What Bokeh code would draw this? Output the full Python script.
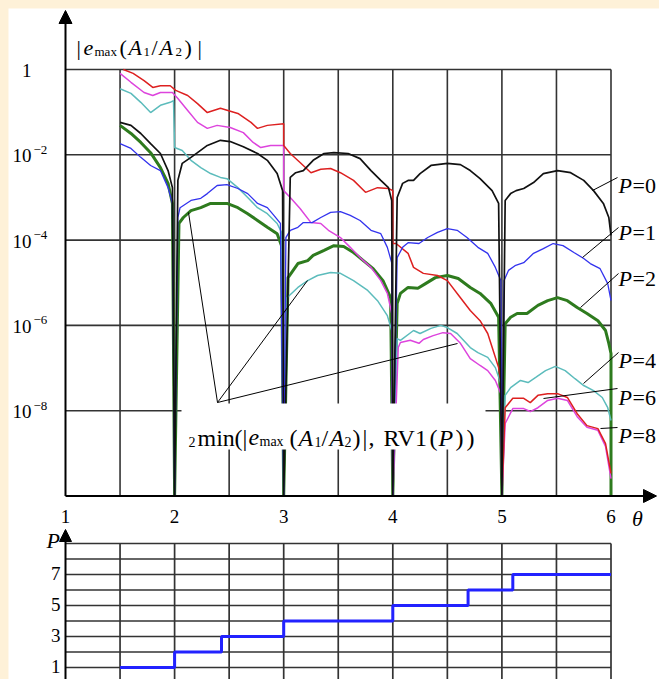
from bokeh.plotting import figure
from bokeh.models import Range1d, Arrow, NormalHead, GlobalInlineStyleSheet
from bokeh.core.properties import value
from bokeh.embed import file_html
from bokeh.resources import INLINE

# ------------------------------------------------------------------ data
theta_min, theta_max = 1, 6
log_err_min, log_err_max = -10, 0          # |e_max| axis spans 1e-10 .. 1 (decades)
x_ticks = [1, 2, 3, 4, 5, 6]
x_tick_labels = ["1", "2", "3", "4", "5", "6"]
x_grid = [1.5, 2, 2.5, 3, 3.5, 4, 4.5, 5, 5.5, 6]
y_ticks_log10 = [0, -2, -4, -6, -8]
y_tick_base = ["1", "10", "10", "10", "10"]
y_tick_exp = ["", "−2", "−4", "−6", "−8"]
p_ticks = [1, 3, 5, 7]
p_tick_labels = ["1", "3", "5", "7"]
p_grid = [1, 2, 3, 4, 5, 6, 7, 8, 9]

# log10 |e_max| (-10 = dip to zero, drawn down to the axis)
p0_theta = [1.50, 1.60, 1.69, 1.78, 1.87, 1.94, 1.98, 2.00, 2.03, 2.07, 2.15, 2.21, 2.30, 2.42, 2.51, 2.63, 2.76, 2.85, 2.94, 2.99,
            3.00, 3.06, 3.11, 3.18, 3.27, 3.37, 3.46, 3.59, 3.70, 3.80, 3.89, 3.96, 3.99, 4.00, 4.04, 4.09, 4.14, 4.19, 4.25, 4.35,
            4.50, 4.62, 4.71, 4.80, 4.91, 4.97, 5.00, 5.03, 5.08, 5.13, 5.20, 5.29, 5.38, 5.51, 5.63, 5.75, 5.84, 5.93, 5.98, 6.00]
p0_log10 = [-1.24, -1.31, -1.50, -1.74, -1.97, -2.37, -2.77, -10, -2.60, -2.20, -2.06, -1.95, -1.78, -1.66, -1.69, -1.81, -1.97, -2.13, -2.44, -2.84,
            -10, -2.53, -2.42, -2.37, -2.13, -1.97, -1.95, -1.97, -2.09, -2.37, -2.60, -2.77, -3.07, -10, -3.00, -2.67, -2.60, -2.60, -2.44, -2.25,
            -2.20, -2.23, -2.37, -2.56, -2.84, -3.14, -10, -3.07, -2.91, -2.84, -2.79, -2.65, -2.44, -2.37, -2.42, -2.60, -2.84, -3.14, -3.47, -3.89]

p1_theta = [1.50, 1.60, 1.69, 1.78, 1.87, 1.94, 1.98, 2.00, 2.03, 2.05, 2.15, 2.24, 2.30, 2.39, 2.48, 2.58, 2.67, 2.76, 2.85, 2.91, 2.97,
            3.00, 3.02, 3.06, 3.13, 3.18, 3.26, 3.34, 3.43, 3.52, 3.61, 3.70, 3.80, 3.89, 3.95, 3.99, 4.00, 4.04, 4.09, 4.14, 4.24, 4.32,
            4.41, 4.50, 4.59, 4.68, 4.78, 4.87, 4.94, 4.99, 5.00, 5.02, 5.06, 5.12, 5.20, 5.29, 5.38, 5.47, 5.56, 5.66, 5.75, 5.81, 5.90, 5.97, 6.00]
p1_log10 = [-1.74, -1.85, -2.06, -2.25, -2.37, -2.77, -3.14, -10, -3.47, -3.24, -3.07, -3.02, -2.91, -2.72, -2.70, -2.79, -2.91, -3.14, -3.24, -3.42, -3.61,
            -10, -3.94, -3.77, -3.70, -3.59, -3.59, -3.47, -3.35, -3.33, -3.42, -3.54, -3.77, -3.85, -4.17, -4.53, -10, -4.41, -4.17, -4.06, -4.08, -3.94,
            -3.82, -3.73, -3.77, -3.94, -4.17, -4.31, -4.64, -4.95, -10, -4.95, -4.71, -4.60, -4.53, -4.31, -4.20, -4.08, -4.13, -4.29, -4.43, -4.55, -4.67, -5.02, -5.42]

p2_theta = [1.50, 1.60, 1.69, 1.78, 1.87, 1.94, 1.98, 2.00, 2.04, 2.08, 2.15, 2.24, 2.33, 2.48, 2.58, 2.67, 2.76, 2.85, 2.94, 2.98,
            3.00, 3.04, 3.13, 3.22, 3.27, 3.37, 3.46, 3.55, 3.64, 3.73, 3.82, 3.91, 3.98, 4.00, 4.04, 4.07, 4.14, 4.23, 4.30, 4.39,
            4.50, 4.60, 4.71, 4.80, 4.90, 4.97, 5.00, 5.03, 5.08, 5.14, 5.23, 5.33, 5.42, 5.51, 5.60, 5.69, 5.78, 5.88, 5.95, 5.98, 6.00, 6.00]
p2_log10 = [-1.31, -1.50, -1.71, -1.95, -2.30, -2.67, -3.14, -10, -3.61, -3.47, -3.31, -3.24, -3.14, -3.14, -3.24, -3.38, -3.54, -3.70, -3.85, -4.13,
            -10, -4.88, -4.55, -4.48, -4.36, -4.24, -4.13, -4.15, -4.29, -4.48, -4.67, -4.95, -5.35, -10, -5.49, -5.25, -5.11, -5.13, -5.02, -4.88,
            -4.83, -4.90, -5.11, -5.25, -5.49, -5.81, -10, -5.96, -5.81, -5.72, -5.72, -5.53, -5.42, -5.35, -5.42, -5.58, -5.72, -5.89, -6.12, -6.42, -6.66, -10]

p4_theta = [1.50, 1.60, 1.69, 1.78, 1.87, 1.96, 1.99, 2.00, 2.07, 2.15, 2.24, 2.33, 2.42, 2.48, 2.58, 2.67, 2.76, 2.85, 2.94, 2.98,
            3.00, 3.03, 3.13, 3.22, 3.31, 3.43, 3.52, 3.64, 3.77, 3.86, 3.95, 3.99, 4.00, 4.04, 4.07, 4.19, 4.25, 4.35, 4.44, 4.50,
            4.59, 4.71, 4.78, 4.87, 4.94, 4.99, 5.00, 5.03, 5.08, 5.17, 5.24, 5.31, 5.40, 5.49, 5.58, 5.67, 5.75, 5.84, 5.92, 5.97, 6.00]
p4_log10 = [-0.45, -0.56, -0.77, -1.01, -0.84, -0.77, -0.73, -1.83, -1.90, -2.13, -2.30, -2.44, -2.53, -2.56, -2.77, -3.00, -3.24, -3.38, -3.61, -3.82,
            -10, -5.35, -5.11, -4.95, -4.83, -4.76, -4.78, -4.95, -5.18, -5.42, -5.77, -6.12, -10, -6.31, -6.35, -6.12, -6.19, -6.07, -6.00, -6.05,
            -6.19, -6.52, -6.64, -6.75, -6.99, -7.36, -10, -7.64, -7.46, -7.29, -7.34, -7.22, -7.06, -6.96, -7.06, -7.25, -7.41, -7.53, -7.69, -7.93, -8.23]

p6_theta = [1.50, 1.60, 1.72, 1.80, 1.87, 1.98, 2.03, 2.12, 2.21, 2.30, 2.39, 2.51, 2.63, 2.72, 2.79, 2.88, 3.00, 3.00,
            3.06, 3.15, 3.25, 3.34, 3.41, 3.52, 3.61, 3.70, 3.80, 3.89, 3.95, 3.99, 4.00, 4.05, 4.07, 4.16, 4.24, 4.28, 4.37,
            4.46, 4.53, 4.62, 4.71, 4.80, 4.87, 4.94, 4.99, 5.00, 5.03, 5.10, 5.20, 5.26, 5.33, 5.42, 5.51, 5.60, 5.69, 5.78, 5.88, 5.95, 6.00]
p6_log10 = [-0.09, -0.30, -0.54, -0.61, -0.54, -0.54, -0.68, -0.96, -1.24, -1.38, -1.31, -1.36, -1.48, -1.71, -1.83, -1.78, -1.78, -2.84,
            -3.00, -3.26, -3.59, -3.61, -3.77, -3.94, -4.17, -4.41, -4.64, -4.95, -5.25, -5.72, -10, -6.52, -6.40, -6.35, -6.42, -6.33, -6.24,
            -6.17, -6.19, -6.42, -6.78, -6.94, -7.06, -7.29, -7.60, -10, -8.30, -7.95, -7.95, -8.02, -7.93, -7.76, -7.71, -7.76, -8.14, -8.39, -8.46, -8.84, -9.59]

p8_theta = [1.53, 1.62, 1.72, 1.80, 1.87, 1.96, 2.01, 2.12, 2.21, 2.30, 2.42, 2.58, 2.70, 2.76, 2.85, 3.00, 3.00,
            3.06, 3.15, 3.25, 3.34, 3.43, 3.52, 3.64, 3.75, 3.86, 3.96, 4.00, 4.00, 4.03, 4.14, 4.19, 4.28, 4.41, 4.50,
            4.62, 4.71, 4.80, 4.87, 4.92, 4.97, 5.00, 5.00, 5.03, 5.10, 5.20, 5.26, 5.33, 5.42, 5.51, 5.60, 5.69, 5.78, 5.88, 5.95, 6.00]
p8_log10 = [0.00, -0.09, -0.26, -0.42, -0.38, -0.38, -0.49, -0.61, -0.80, -1.01, -0.91, -1.03, -1.24, -1.38, -1.31, -1.27, -1.78,
            -1.97, -2.18, -2.42, -2.34, -2.32, -2.42, -2.60, -2.88, -2.77, -2.79, -2.84, -4.08, -4.08, -4.31, -4.64, -4.78, -4.83, -4.95,
            -5.35, -5.65, -5.89, -6.19, -6.59, -6.99, -7.46, -10, -7.93, -7.71, -7.71, -7.81, -7.64, -7.60, -7.60, -7.69, -8.07, -8.35, -8.42, -8.77, -9.47]

# chosen P(theta) (lower panel), step edges
step_theta = [1.5, 2.0, 2.43, 3.0, 4.0, 4.69, 5.10, 6.0]
step_P = [1, 2, 3, 4, 5, 6, 7, 7]

# ------------------------------------------------------------------ geometry helpers (annotation placement, window pixels)
SERIF = "Liberation Serif"
PX0, PXS = 65.0, 109.1      # window x of theta=1, px per unit theta
PY0, PYS = 69.0, 42.65      # window y of 10^0, px per decade
PP1, PPS = 667.0, 15.5      # window y of P=1, px per unit P


def ax(px):
    return 1.0 + (px - PX0) / PXS


def ay(py):                 # window y -> log10 |e_max|
    return (PY0 - py) / PYS


def ap(py):                 # window y -> P
    return 1.0 + (PP1 - py) / PPS


W, H = 651, 671
GRID = "#333333"

fig = figure(width=W, height=H, x_range=Range1d(ax(8), ax(8 + W)), y_range=Range1d(ay(8 + H), ay(8)),
             output_backend="svg", toolbar_location=None, title=None,
             x_axis_location=None, y_axis_location=None,
             min_border_left=0, min_border_right=0, min_border_top=0, min_border_bottom=0)
fig.extra_y_ranges = {"p": Range1d(ap(8 + H), ap(8))}
fig.outline_line_color = None
fig.xgrid.visible = False
fig.ygrid.visible = False


def txt(xs, ys, texts, size, style="normal", align="left", baseline="alphabetic", dx=0, dy=0, rng="default"):
    fig.text(x=xs, y=ys, text=texts, text_font=value(SERIF), text_font_size=f"{size}px",
             text_font_style=value(style), text_align=value(align), text_baseline=value(baseline),
             x_offset=dx, y_offset=dy, text_color="black", y_range_name=rng)


# ------------------------------------------------------------------ upper panel: |e_max(A1/A2)| vs theta
fig.segment(x0=x_grid, y0=[log_err_min] * len(x_grid), x1=x_grid, y1=[log_err_max] * len(x_grid),
            line_color=GRID, line_width=1.6)
fig.segment(x0=[theta_min] * len(y_ticks_log10), y0=y_ticks_log10, x1=[theta_max] * len(y_ticks_log10),
            y1=y_ticks_log10, line_color=GRID, line_width=1.6)

curves = [
    (p2_theta, p2_log10, "#2e7b1e", 3.0),
    (p4_theta, p4_log10, "#5cbcbc", 1.5),
    (p6_theta, p6_log10, "#dd44dd", 1.5),
    (p8_theta, p8_log10, "#dd2020", 1.5),
    (p1_theta, p1_log10, "#3333ee", 1.3),
    (p0_theta, p0_log10, "#111111", 1.7),
]
for th, lg, col, lw in curves:
    fig.line(th, lg, line_color=col, line_width=lw)

# tick labels
txt(x_ticks, [log_err_min] * len(x_ticks), x_tick_labels, 19, align="center", dy=20)
txt([theta_min] * len(y_ticks_log10), y_ticks_log10, y_tick_base, 19, align="right", baseline="middle", dx=-34, dy=1)
txt([theta_min] * len(y_ticks_log10), y_ticks_log10, y_tick_exp, 13, align="left", baseline="middle", dx=-32, dy=-5)
txt([theta_max], [log_err_min], ["θ"], 22, style="italic", dx=21, dy=22)

# white box behind the formula
fig.quad(left=ax(181), right=ax(485), top=ay(403), bottom=ay(449), fill_color="white", line_color=None)

# leader lines (window pixel pairs)
leaders = [
    ((217, 402), (188, 212)), ((217, 402), (307, 280)), ((217, 402), (457, 343)),
    ((592, 190), (617, 177)), ((582, 257), (618, 227)), ((580, 307), (618, 273)),
    ((583, 383), (618, 352)), ((543, 398), (617, 388)), ((600, 428), (617, 427)),
]
fig.segment(x0=[ax(a[0]) for a, b in leaders], y0=[ay(a[1]) for a, b in leaders],
            x1=[ax(b[0]) for a, b in leaders], y1=[ay(b[1]) for a, b in leaders],
            line_color="black", line_width=1)

# text pieces: (text, x_left, baseline_y, size, style)
pieces = [
    # y-axis title |e_max(A1/A2)|
    ("|", 76, 47, 22, "normal"), ("e", 83, 47, 22, "italic"), ("max", 94, 51, 13, "normal"),
    ("(", 119, 47, 22, "normal"), ("A", 128, 47, 22, "italic"), ("1", 143, 51, 13, "normal"),
    ("/", 151, 47, 22, "normal"), ("A", 159, 47, 22, "italic"), ("2", 175, 51, 13, "normal"),
    (")", 184, 47, 22, "normal"), ("|", 197, 47, 22, "normal"),
    # formula 2min(|e_max(A1/A2)|, RV1(P))
    ("2", 188, 441, 14, "normal"), ("min", 197, 437, 24, "normal"), ("(", 234, 437, 24, "normal"),
    ("|", 242, 437, 24, "normal"), ("e", 248, 437, 24, "italic"), ("max", 259, 441, 14, "normal"),
    ("(", 289, 437, 24, "normal"), ("A", 298, 437, 24, "italic"), ("1", 314, 441, 14, "normal"),
    ("/", 321, 437, 24, "normal"), ("A", 329, 437, 24, "italic"), ("2", 344, 441, 14, "normal"),
    (")", 352, 437, 24, "normal"), ("|", 362, 437, 24, "normal"), (",", 368, 437, 24, "normal"),
    ("RV1", 383, 437, 24, "normal"), ("(", 429, 437, 24, "normal"), ("P", 438, 437, 24, "italic"),
    (")", 455, 437, 24, "normal"), (")", 466, 437, 24, "normal"),
]
for lbl, yb in [("0", 185), ("1", 232), ("2", 278), ("4", 360), ("6", 397), ("8", 435)]:
    pieces.append(("P", 618, yb, 22, "italic"))
    pieces.append(("=" + lbl, 632, yb, 22, "normal"))

for s, px, py, size, st in pieces:
    txt([ax(px)], [ay(py)], [s], size, style=st)

fig.add_layout(Arrow(end=NormalHead(size=13, fill_color="black", line_color="black"),
                     x_start=theta_min, y_start=log_err_min, x_end=theta_min, y_end=ay(10),
                     line_width=2, line_color="black"))
fig.add_layout(Arrow(end=NormalHead(size=13, fill_color="black", line_color="black"),
                     x_start=theta_min, y_start=log_err_min, x_end=ax(656), y_end=log_err_min,
                     line_width=2, line_color="black"))

# ------------------------------------------------------------------ lower panel: P vs theta
fig.segment(x0=[theta_min] * len(p_grid), y0=p_grid, x1=[theta_max] * len(p_grid), y1=p_grid,
            line_color=GRID, line_width=1.7, y_range_name="p")
fig.segment(x0=x_grid, y0=[0] * len(x_grid), x1=x_grid, y1=[max(p_grid)] * len(x_grid),
            line_color=GRID, line_width=1.7, y_range_name="p")
fig.step(x=step_theta, y=step_P, mode="after", line_color="#2222ff", line_width=3, y_range_name="p")
txt([theta_min] * len(p_ticks), p_ticks, p_tick_labels, 19, align="right", baseline="middle", dx=-5, dy=-1, rng="p")
txt([theta_min], [max(p_grid)], ["P"], 22, style="italic", dx=-19, dy=-3, rng="p")
fig.add_layout(Arrow(end=NormalHead(size=12, fill_color="black", line_color="black"),
                     x_start=theta_min, y_start=0, x_end=theta_min, y_end=ap(529),
                     line_width=2, line_color="black", y_range_name="p"))

fig.stylesheets = [GlobalInlineStyleSheet(
    css="html, body { background-color: #FEF1D8 !important; overflow: hidden !important; }"
        " body { margin: 0 !important; padding: 8px 0 0 8px !important; }")]

open("out.html", "w").write(file_html(fig, INLINE))
